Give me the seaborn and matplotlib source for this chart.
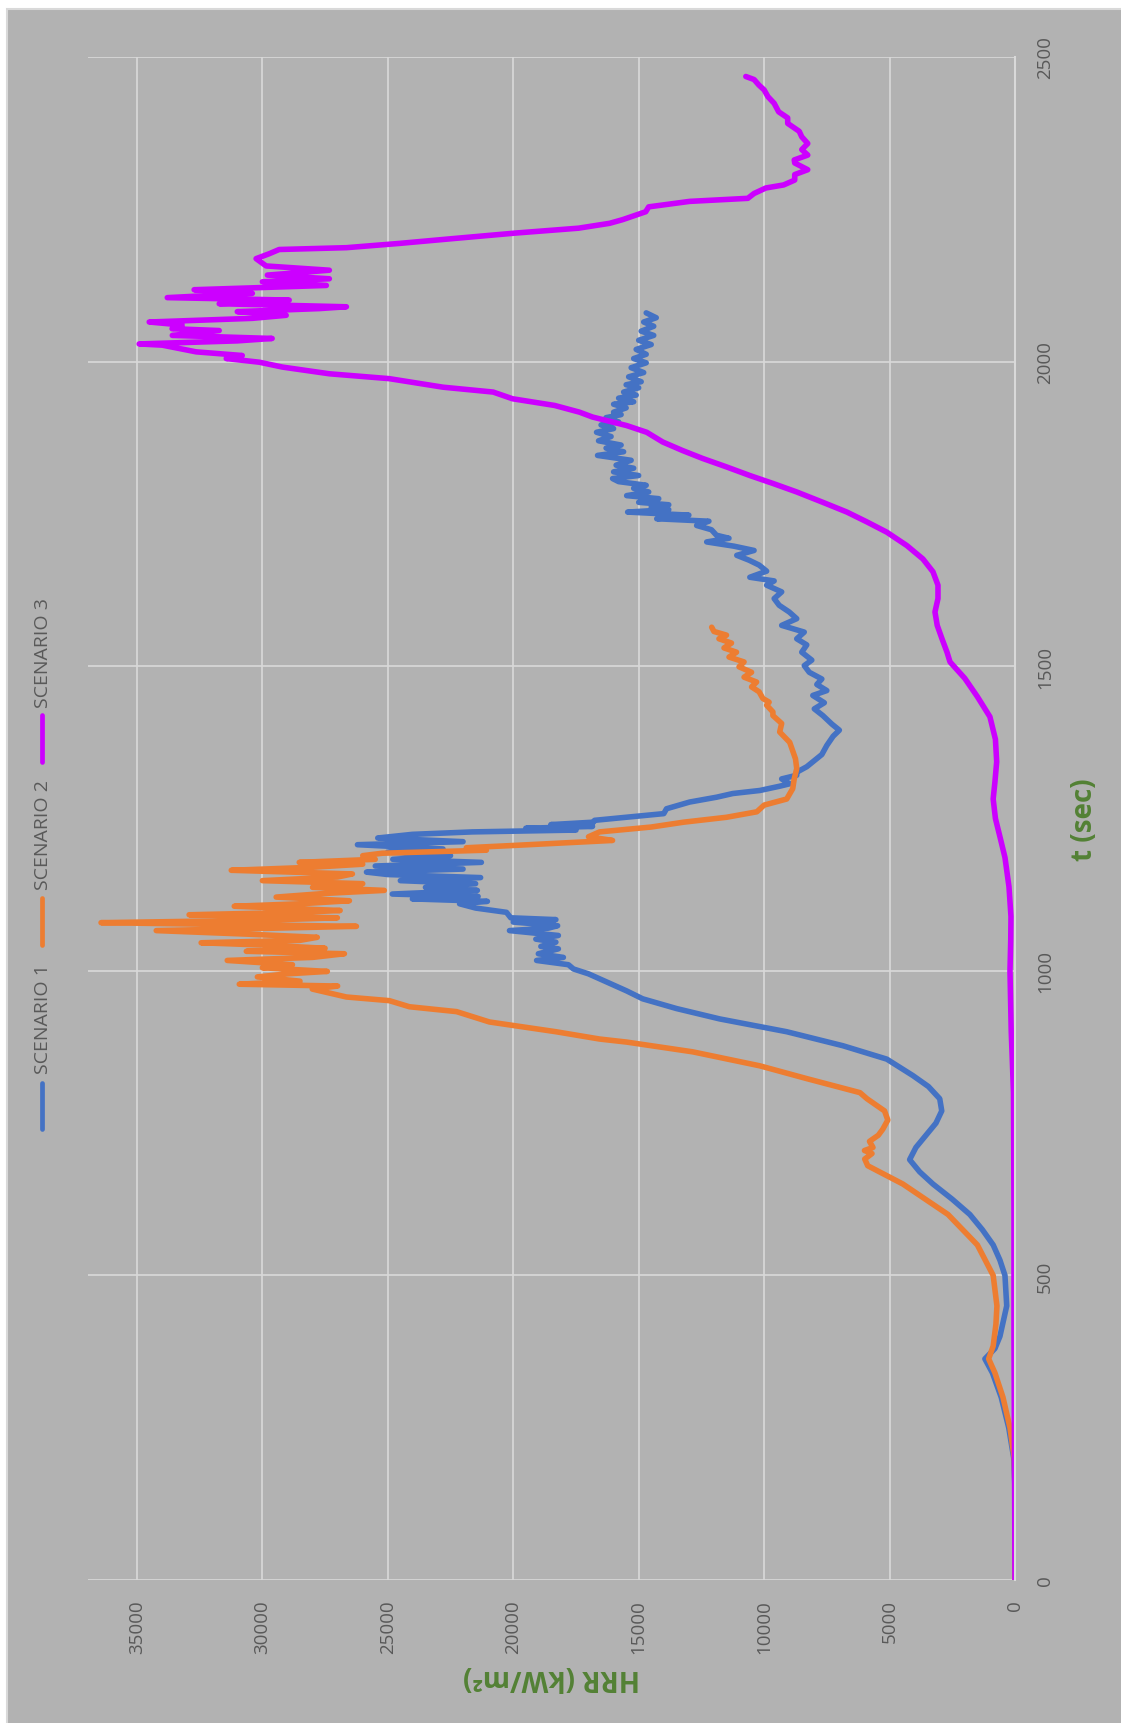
import matplotlib
matplotlib.use("Agg")
import matplotlib.pyplot as plt
from matplotlib.lines import Line2D
from matplotlib.patches import Rectangle
import seaborn as sns
import pandas as pd

W, H = 1121, 1724

scenario_names = ["SCENARIO 1", "SCENARIO 2", "SCENARIO 3"]
scenario_colors = ["#4472C4", "#ED7D31", "#CC00FF"]

# (t [s], HRR [kW/m2]) samples for each scenario
scenario_1 = [
    (0, 0), (150, 0), (200, 50), (250, 250), (300, 550), (340, 900), (363, 1200),
    (380, 800), (400, 600), (450, 330), (500, 400), (525, 600), (550, 870),
    (575, 1300), (600, 1800), (625, 2500), (650, 3270), (670, 3800), (690, 4200),
    (710, 3950), (730, 3550), (750, 3150), (770, 2920), (790, 3000), (810, 3450),
    (828, 4070), (855, 5110), (877, 6860), (900, 9100), (921, 11770), (938, 13490),
    (954, 14840), (967, 15480), (987, 16560), (995, 17000), (1003, 17600),
    (1010, 17800), (1017, 19070), (1022, 18000), (1028, 19000), (1036, 18200),
    (1040, 18900), (1047, 18300), (1052, 19100), (1058, 18200), (1066, 20150),
    (1070, 18600), (1074, 18230), (1080, 20000), (1084, 18300), (1087, 20100),
    (1096, 20270), (1103, 21500), (1110, 22140), (1114, 21030), (1118, 24020),
    (1122, 21400), (1126, 24820), (1132, 21430), (1137, 23500), (1143, 21500),
    (1148, 24500), (1153, 21300), (1158, 25000), (1162, 25850), (1167, 22000),
    (1172, 25500), (1178, 21270), (1183, 24800), (1189, 22500), (1195, 25000),
    (1200, 22800), (1207, 26210), (1212, 22000), (1218, 25400), (1224, 24020),
    (1228, 21630), (1231, 17500), (1234, 19500), (1237, 16840), (1240, 18500),
    (1244, 16800), (1247, 16760), (1252, 15500), (1258, 14000), (1266, 13890),
    (1277, 12970), (1285, 11890), (1291, 11250), (1296, 10170), (1303, 9380),
    (1307, 8980), (1315, 9300), (1321, 8700), (1326, 8700), (1335, 8300),
    (1345, 8000), (1355, 7700), (1370, 7500), (1385, 7250), (1395, 7000),
    (1405, 7300), (1419, 7660), (1430, 8000), (1440, 7600), (1452, 8060),
    (1460, 7500), (1470, 7900), (1479, 7700), (1490, 8200), (1501, 8400),
    (1510, 8100), (1523, 8500), (1535, 8300), (1545, 8700), (1556, 8400),
    (1567, 9300), (1578, 8700), (1589, 9000), (1600, 9400), (1611, 9600),
    (1622, 9300), (1633, 9900), (1640, 9600), (1646, 10570), (1656, 9900),
    (1666, 10200), (1674, 10600), (1682, 11090), (1690, 10400), (1697, 11200),
    (1704, 12290), (1710, 11400), (1715, 11900), (1724, 12100), (1731, 12690),
    (1738, 12200), (1742, 14280), (1748, 13000), (1753, 15440), (1757, 13800),
    (1761, 14500), (1765, 13800), (1769, 15000), (1775, 14200), (1780, 15480),
    (1786, 14600), (1792, 15200), (1797, 14700), (1803, 15800), (1808, 16040),
    (1813, 15000), (1819, 16000), (1825, 15200), (1830, 15900), (1838, 15300),
    (1846, 16640), (1852, 15600), (1858, 16300), (1863, 15700), (1870, 16600),
    (1877, 16100), (1884, 16680), (1890, 16000), (1896, 16500), (1901, 15800),
    (1908, 16300), (1913, 15700), (1917, 16000), (1924, 15500), (1930, 16000),
    (1934, 15200), (1940, 15800), (1945, 15100), (1950, 15600), (1957, 15000),
    (1962, 15500), (1967, 14900), (1975, 15400), (1982, 14800), (1990, 15300),
    (1998, 14700), (2005, 15200), (2012, 14700), (2020, 15100), (2028, 14500),
    (2035, 15000), (2043, 14400), (2050, 14900), (2058, 14400), (2065, 14800),
    (2072, 14300), (2080, 14700),
]

scenario_2 = [
    (0, 0), (150, 0), (200, 30), (250, 200), (300, 480), (340, 800), (363, 1050),
    (384, 870), (420, 760), (450, 720), (500, 870), (550, 1500), (600, 2670),
    (650, 4470), (680, 5870), (691, 5990), (700, 5700), (705, 6000), (710, 5660),
    (720, 5800), (730, 5450), (740, 5270), (755, 5070), (770, 5200), (790, 5900),
    (800, 6180), (823, 8300), (844, 10170), (867, 12850), (883, 15480),
    (888, 16560), (900, 18300), (916, 20950), (933, 22260), (941, 24140),
    (951, 24940), (957, 26650), (970, 28010), (975, 27000), (978, 30920),
    (983, 28500), (990, 30200), (995, 29000), (999, 27410), (1005, 30000),
    (1010, 28800), (1017, 31400), (1022, 28000), (1028, 26730), (1032, 30640),
    (1037, 27500), (1042, 29800), (1046, 32440), (1050, 28500), (1055, 27810),
    (1060, 30500), (1066, 34230), (1070, 29500), (1073, 26250), (1079, 36430),
    (1083, 30000), (1087, 27010), (1092, 32920), (1096, 28500), (1099, 26900),
    (1106, 31120), (1110, 28500), (1115, 26530), (1121, 29450), (1127, 27500),
    (1132, 25140), (1137, 28000), (1143, 26000), (1148, 30000), (1154, 27000),
    (1159, 26410), (1165, 31240), (1170, 28000), (1175, 26000), (1178, 28530),
    (1183, 25500), (1189, 26000), (1193, 25220), (1198, 21070), (1202, 21870),
    (1206, 19870), (1214, 16040), (1220, 17000), (1228, 16560), (1236, 14500),
    (1244, 13200), (1252, 11500), (1261, 10290), (1272, 10000), (1282, 9100),
    (1299, 8860), (1315, 8800), (1332, 8700), (1348, 8750), (1375, 8980),
    (1392, 9380), (1406, 9300), (1419, 9650), (1425, 9650), (1436, 9900),
    (1441, 9800), (1447, 10050), (1458, 10200), (1466, 10500), (1474, 10300),
    (1482, 10800), (1490, 10500), (1499, 11000), (1507, 10800), (1515, 11400),
    (1523, 11100), (1530, 11600), (1538, 11300), (1545, 11800), (1551, 11500),
    (1557, 12000), (1564, 12090),
]

scenario_3 = [
    (0, 0), (200, 20), (400, 40), (600, 40), (800, 60), (900, 150), (1000, 200),
    (1050, 170), (1089, 160), (1138, 240), (1186, 400), (1220, 600), (1250, 780),
    (1282, 870), (1310, 800), (1343, 730), (1380, 780), (1417, 1000), (1450, 1500),
    (1480, 2000), (1507, 2590), (1523, 2710), (1545, 2910), (1567, 3100),
    (1589, 3190), (1611, 3070), (1633, 3070), (1655, 3270), (1676, 3670),
    (1698, 4310), (1720, 5110), (1737, 5910), (1753, 6700), (1769, 7660),
    (1786, 8700), (1800, 9650), (1813, 10570), (1827, 11490), (1841, 12450),
    (1854, 13250), (1868, 14040), (1884, 14680), (1895, 15480), (1909, 16840),
    (1917, 17360), (1928, 18350), (1939, 20030), (1950, 20800), (1958, 22800),
    (1972, 24940), (1980, 27330), (1991, 29200), (1999, 30120), (2005, 31440),
    (2010, 30800), (2016, 32640), (2027, 33990), (2029, 34910), (2034, 31000),
    (2038, 29610), (2043, 33590), (2051, 31720), (2054, 33600), (2060, 33200),
    (2065, 34510), (2071, 30400), (2076, 29050), (2082, 31000), (2087, 27730),
    (2090, 26650), (2095, 31720), (2101, 28930), (2105, 33790), (2112, 30400),
    (2118, 32720), (2125, 27450), (2131, 30000), (2136, 27330), (2142, 29800),
    (2150, 27330), (2157, 29850), (2169, 30250), (2177, 29730), (2184, 29330),
    (2187, 26650), (2194, 24540), (2202, 22380), (2211, 19910), (2219, 17400),
    (2227, 16160), (2233, 15640), (2246, 14720), (2254, 14600), (2263, 12970),
    (2268, 10650), (2276, 10400), (2285, 9930), (2290, 9220), (2298, 8780),
    (2307, 8780), (2315, 8260), (2326, 8780), (2331, 8800), (2339, 8260),
    (2348, 8500), (2358, 8260), (2369, 8500), (2378, 8600), (2391, 9060),
    (2400, 9060), (2410, 9420), (2424, 9600), (2435, 9850), (2446, 10000),
    (2454, 10210), (2463, 10400), (2468, 10730),
]

t_ticks = [0, 500, 1000, 1500, 2000, 2500]
hrr_ticks = [0, 5000, 10000, 15000, 20000, 25000, 30000, 35000]

frames = []
for name, pts in zip(scenario_names, [scenario_1, scenario_2, scenario_3]):
    df = pd.DataFrame(pts, columns=["t", "hrr"])
    df["scenario"] = name
    frames.append(df)
data = pd.concat(frames, ignore_index=True)

sns.set_style("white")
plt.rcParams["font.family"] = ["Open Sans", "DejaVu Sans"]

label_grey = "#595959"
grid_grey = "#d9d9d9"
title_green = "#538135"

fig = plt.figure(figsize=(W / 100, H / 100), dpi=100, facecolor="white")
fig.patches.append(Rectangle((7 / W, -0.01), 1.01 - 7 / W, 1.01 - 10 / H,
                             transform=fig.transFigure, facecolor="#b2b2b2",
                             edgecolor=grid_grey, lw=1.5, zorder=-10))

ax = fig.add_axes([88 / W, 1 - 1581 / H, 927 / W, 1523 / H])
ax.set_facecolor("none")

sns.lineplot(data=data, x="hrr", y="t", hue="scenario", palette=scenario_colors,
             orient="y", sort=False, estimator=None, lw=4.0, legend=False, ax=ax)
for line in ax.lines:
    line.set_solid_capstyle("round")
    line.set_solid_joinstyle("round")

ax.set_xlim(36950, 0)
ax.set_ylim(0, 2500)
ax.set_xticks(hrr_ticks)
ax.set_xticklabels([str(v) for v in hrr_ticks])
ax.set_yticks(t_ticks)
ax.set_yticklabels([str(v) for v in t_ticks])
ax.yaxis.tick_right()
ax.tick_params(axis="x", length=0, pad=14, labelrotation=90, labelsize=13.5,
               labelcolor=label_grey)
ax.tick_params(axis="y", length=0, pad=15, labelrotation=90, labelsize=13.5,
               labelcolor=label_grey)
for lab in ax.get_yticklabels():
    lab.set_va("center")

ax.grid(True, color=grid_grey, lw=1.2)
ax.set_axisbelow(True)
for side in ["left", "top", "bottom"]:
    ax.spines[side].set_visible(False)
ax.spines["right"].set_color(grid_grey)
ax.spines["right"].set_linewidth(1.5)

ax.set_xlabel("HRR (kW/m²)", rotation=180, fontsize=20, fontweight="bold",
              color=title_green, va="center", ha="center")
ax.xaxis.set_label_coords(0.5, -(1678 - 1581) / 1523)
ax.yaxis.set_label_position("right")
ax.set_ylabel("t (sec)", rotation=90, fontsize=20, fontweight="bold",
              color=title_green, va="center", ha="center")
ax.yaxis.set_label_coords((1085 - 88) / 927, 0.5)

# legend along the left edge, reading upward
legend_marks = [(1084, 1130), (899, 946), (716, 763)]
legend_text_y = [1019, 835, 653]
for name, color, (m0, m1), ty in zip(scenario_names, scenario_colors,
                                      legend_marks, legend_text_y):
    fig.add_artist(Line2D([42 / W, 42 / W], [1 - m0 / H, 1 - m1 / H], color=color,
                          lw=3.4, solid_capstyle="round", transform=fig.transFigure))
    fig.text(43 / W, 1 - ty / H, name, rotation=90, ha="center", va="center",
             fontsize=14, color=label_grey)

fig.savefig("out.png", dpi=100, facecolor=fig.get_facecolor())
